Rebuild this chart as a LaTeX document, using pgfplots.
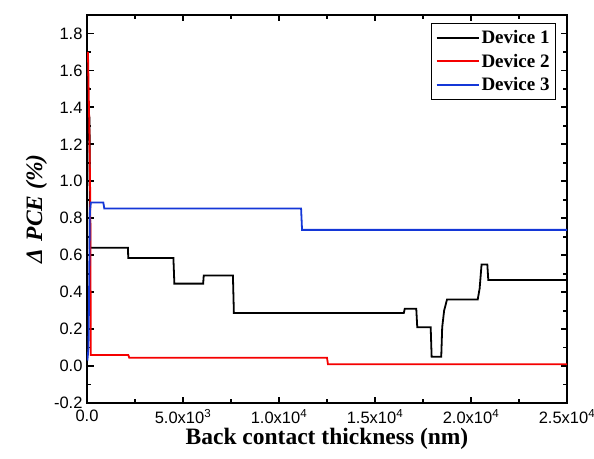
\documentclass[border=0pt]{standalone}
\usepackage{fontspec}
\setmainfont{Liberation Serif}
\newfontfamily\arialf{Liberation Sans}
\usepackage{pgfplots}
\pgfplotsset{compat=1.18}
\definecolor{devblue}{RGB}{20,55,215}
\definecolor{devred}{RGB}{245,0,0}
\begin{document}
\begin{tikzpicture}
\begin{axis}[
  scale only axis, width=480pt, height=388pt,
  xmin=0, xmax=25000, ymin=-0.2, ymax=1.9,
  scaled x ticks=false,
  xtick={0,5000,10000,15000,20000,25000},
  xticklabels={0.0, 5.0x10\textsuperscript{3}, 1.0x10\textsuperscript{4}, 1.5x10\textsuperscript{4}, 2.0x10\textsuperscript{4}, 2.5x10\textsuperscript{4}},
  minor x tick num=1,
  ytick={-0.2,0,0.2,0.4,0.6,0.8,1.0,1.2,1.4,1.6,1.8},
  yticklabels={-0.2,0.0,0.2,0.4,0.6,0.8,1.0,1.2,1.4,1.6,1.8},
  minor y tick num=1,
  tick align=inside,
  major tick length=6.5pt, minor tick length=4pt,
  every tick/.style={black, line width=1.8pt},
  axis line style={line width=2.2pt},
  tick label style={font=\arialf\fontsize{16.5}{18}\selectfont},
  xticklabel style={yshift=-3pt},
  yticklabel style={xshift=-1pt},
  xlabel={\bfseries Back contact thickness (nm)},
  ylabel={\bfseries\itshape Δ\,\,PCE (\%)},
  label style={font=\fontsize{23.5}{25}\selectfont},
  xlabel style={yshift=3pt},
  legend style={at={(1,1)}, anchor=north east, xshift=-11pt, yshift=-8pt,
    font=\bfseries\fontsize{19}{21}\selectfont, draw=black, line width=0.9pt,
    row sep=5pt, inner xsep=4pt, inner ysep=5pt},
  legend cell align=left,
]
\addplot[black, line width=1.8pt, forget plot] coordinates {
(0,0.30) (20,1.57) (50,1.30) (90,1.22) (130,1.35) (170,0.64)
(2130,0.64) (2150,0.585) (4500,0.585) (4550,0.446) (6050,0.446) (6080,0.49)
(7600,0.49) (7650,0.287) (16500,0.287) (16550,0.31) (17150,0.31) (17200,0.21)
(17900,0.21) (17950,0.05) (18450,0.05) (18500,0.21) (18600,0.30) (18750,0.36)
(20350,0.36) (20450,0.42) (20550,0.55) (20850,0.55) (20900,0.466) (25000,0.466)
};
\addplot[devred, line width=1.8pt, forget plot] coordinates {
(50,1.70) (120,1.30) (170,0.90) (200,0.06) (2150,0.06) (2200,0.045)
(12500,0.045) (12550,0.01) (25000,0.01)
};
\addplot[devblue, line width=1.8pt, forget plot] coordinates {
(20,0.03) (80,0.10) (150,0.83) (200,0.885) (850,0.885) (900,0.853)
(11150,0.853) (11200,0.737) (25000,0.737)
};
\addlegendimage{legend image code/.code={\draw[black, line width=2pt] (0pt,0pt) -- (42pt,0pt);}}
\addlegendentry{Device 1}
\addlegendimage{legend image code/.code={\draw[devred, line width=2pt] (0pt,0pt) -- (42pt,0pt);}}
\addlegendentry{Device 2}
\addlegendimage{legend image code/.code={\draw[devblue, line width=2pt] (0pt,0pt) -- (42pt,0pt);}}
\addlegendentry{Device 3}
\end{axis}
\pgfresetboundingbox
\path[use as bounding box] ([xshift=-87pt,yshift=-55pt]current axis.south west) rectangle ([xshift=27pt,yshift=15pt]current axis.north east);
\end{tikzpicture}
\end{document}
